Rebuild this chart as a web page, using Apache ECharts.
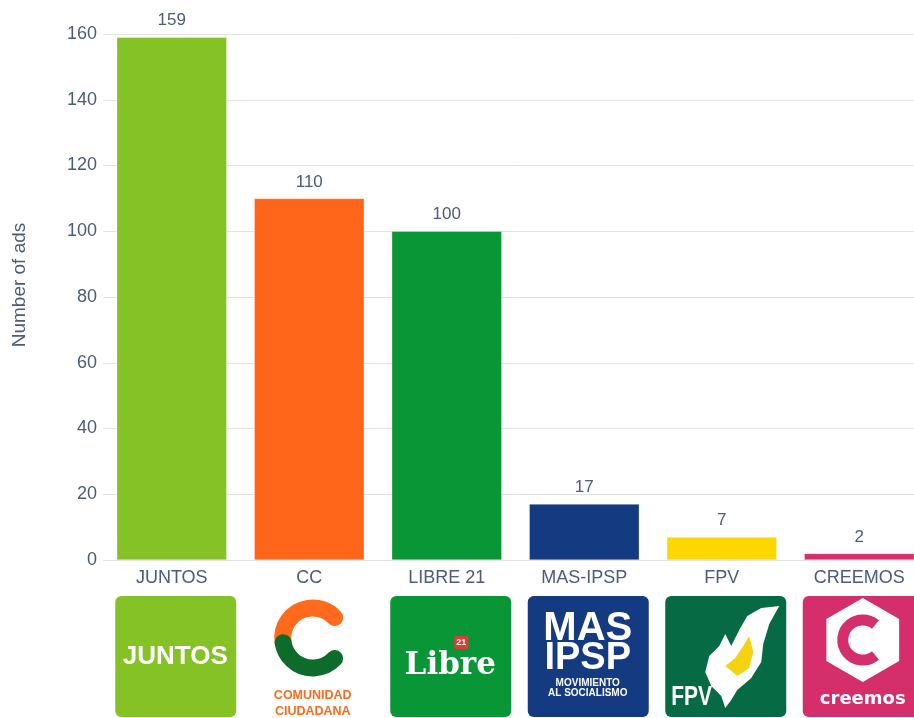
<!DOCTYPE html>
<html>
<head>
<meta charset="utf-8">
<script src="https://cdn.jsdelivr.net/npm/echarts@6/dist/echarts.min.js"></script>
<style>
  html, body { margin: 0; padding: 0; background: #fff; overflow: hidden; }
  #chart { width: 928px; height: 718px; }
</style>
</head>
<body>
<div id="chart"></div>
<script>
// data
const parties = ['JUNTOS', 'CC', 'LIBRE 21', 'MAS-IPSP', 'FPV', 'CREEMOS'];
const adCounts = [159, 110, 100, 17, 7, 2];
const partyColors = ['#84c225', '#ff6619', '#089636', '#143a82', '#fdd800', '#d62e6b'];
const yTicks = { min: 0, max: 160, interval: 20 };

const textColor = '#4a5b7c';
const font = 'Arial, "Liberation Sans", sans-serif';

// the plot runs a little past the right edge of the 914px window, so the div is wider
const chart = echarts.init(document.getElementById('chart'));

chart.setOption({
  animation: false,
  grid: { left: 103, right: 0, top: 34, bottom: 158 },
  xAxis: {
    type: 'category',
    data: parties,
    axisLine: { show: false },
    axisTick: { show: false },
    axisLabel: { color: textColor, fontSize: 18, fontFamily: font, margin: 9 }
  },
  yAxis: {
    type: 'value',
    min: yTicks.min,
    max: yTicks.max,
    interval: yTicks.interval,
    name: 'Number of ads',
    nameLocation: 'middle',
    nameGap: 74,
    nameTextStyle: { color: textColor, fontSize: 19, fontFamily: font, padding: [0, 0, 0, 24] },
    axisLabel: { color: textColor, fontSize: 18, fontFamily: font, margin: 6 },
    splitLine: { lineStyle: { color: '#e2e2e2', width: 1 } }
  },
  series: [{
    type: 'bar',
    data: adCounts.map((v, i) => ({ value: v, itemStyle: { color: partyColors[i] } })),
    barCategoryGap: '20%',
    itemStyle: { borderColor: 'rgba(255,255,255,0.6)', borderWidth: 0.5 },
    label: {
      show: true,
      position: 'top',
      distance: 8,
      color: textColor,
      fontSize: 17,
      fontFamily: font
    }
  }]
});

// party logos drawn under the axis labels, one per category
const S = 121;
function txt(x, y, text, size, color, extra, el) {
  return Object.assign({
    type: 'text', x: x, y: y,
    style: Object.assign({
      text: text, fill: color, fontSize: size, fontWeight: 'bold', fontFamily: font,
      align: 'center', verticalAlign: 'middle'
    }, extra || {})
  }, el || {});
}
function box(color) {
  return { type: 'rect', shape: { x: 0, y: 0, width: S, height: S, r: 6 }, style: { fill: color } };
}
function hexPoints(cx, cy, r) {
  const pts = [];
  for (let k = 0; k < 6; k++) {
    const a = Math.PI / 6 + k * Math.PI / 3;
    pts.push([cx + r * Math.cos(a), cy + r * Math.sin(a)]);
  }
  return pts;
}

const logoParts = {
  'JUNTOS': [
    box('#84c225'),
    txt(60, 61, 'JUNTOS', 26, '#fff')
  ],
  'CC': [
    { type: 'arc', shape: { cx: 60, cy: 42, r: 30, startAngle: Math.PI * 0.95, endAngle: Math.PI * 1.76 },
      style: { stroke: '#ff6a1c', lineWidth: 17, lineCap: 'round', fill: null } },
    { type: 'arc', shape: { cx: 60, cy: 42, r: 30, startAngle: Math.PI * 0.24, endAngle: Math.PI * 0.95 },
      style: { stroke: '#0d6b2c', lineWidth: 17, lineCap: 'round', fill: null } },
    txt(60, 100, 'COMUNIDAD', 12.5, '#ff6a1c'),
    txt(60, 116, 'CIUDADANA', 12.5, '#ff6a1c')
  ],
  'LIBRE 21': [
    box('#089636'),
    txt(60, 70, 'Libre', 31, '#fff', { fontFamily: '"DejaVu Serif", serif' }),
    { type: 'rect', shape: { x: 64, y: 40, width: 14, height: 13, r: 2 }, style: { fill: '#e53935' } },
    txt(71, 47, '21', 9, '#fff')
  ],
  'MAS-IPSP': [
    box('#143a82'),
    txt(60, 33, 'MAS', 40, '#fff'),
    txt(60, 63, 'IPSP', 38, '#fff'),
    txt(60, 87, 'MOVIMIENTO', 10, '#fff'),
    txt(60, 97, 'AL SOCIALISMO', 10, '#fff')
  ],
  'FPV': [
    box('#066a45'),
    { type: 'polygon', shape: { points: [[114, 10], [96, 12], [82, 20], [74, 34], [66, 50], [60, 38], [54, 50],
        [44, 60], [40, 76], [46, 90], [56, 100], [60, 112], [66, 104], [72, 94], [86, 82], [96, 66],
        [98, 48], [104, 28]] },
      style: { fill: '#fff' } },
    { type: 'polygon', shape: { points: [[60, 70], [70, 62], [78, 50], [84, 40], [88, 56], [84, 72], [72, 80]] },
      style: { fill: '#f5d312' } },
    txt(6, 101, 'FPV', 28, '#fff', { align: 'left' }, { scaleX: 0.75 })
  ],
  'CREEMOS': [
    box('#d42f6a'),
    { type: 'polygon', shape: { points: hexPoints(60, 44, 42) }, style: { fill: '#fff' } },
    { type: 'arc', shape: { cx: 60, cy: 44, r: 20, startAngle: Math.PI * 0.28, endAngle: Math.PI * 1.72 },
      style: { stroke: '#d42f6a', lineWidth: 11, fill: null } },
    txt(60, 103, 'creemos', 18, '#fff', { fontFamily: '"DejaVu Sans", sans-serif' })
  ]
};

const logos = parties.map(p => {
  const cx = chart.convertToPixel({ xAxisIndex: 0 }, p);
  return { type: 'group', x: cx + 4 - S / 2, y: 596, children: logoParts[p] };
});
chart.setOption({ graphic: logos });
</script>
</body>
</html>
